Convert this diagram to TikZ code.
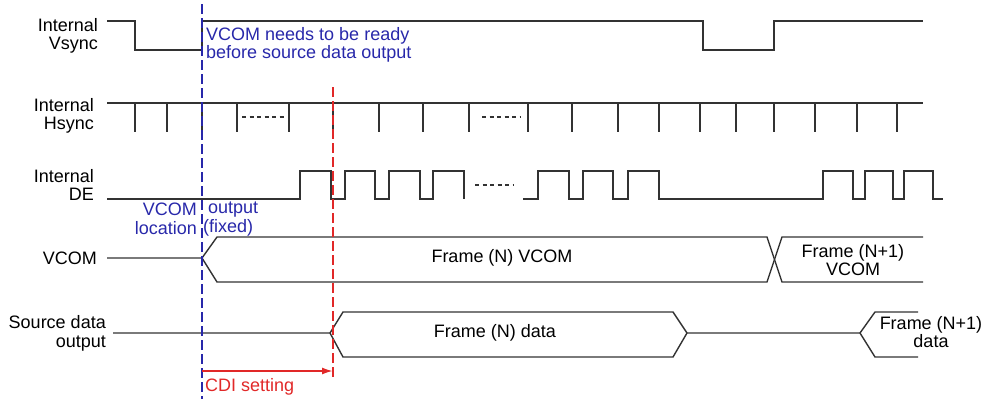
\documentclass[tikz,border=0pt]{standalone}
\usepackage{fontspec}
\setmainfont{Liberation Sans}
\usetikzlibrary{arrows.meta}
\definecolor{myblue}{RGB}{40,40,170}
\definecolor{myred}{RGB}{225,40,40}
\definecolor{sigcol}{RGB}{50,50,50}
\begin{document}
\begin{tikzpicture}[x=1pt,y=-1pt,
  sig/.style={line width=1.4pt, draw=sigcol, line join=miter},
  dots/.style={line width=1.1pt, draw=sigcol, dash pattern=on 4pt off 3.5pt},
  txt/.style={font=\fontsize{18}{18.5}\selectfont, inner sep=0pt},
  lbl/.style={txt, align=right, anchor=east},
  bluetxt/.style={txt, text=myblue},
  redtxt/.style={txt, text=myred},
  bluedash/.style={draw=myblue, line width=1.2pt, dash pattern=on 10pt off 4pt},
  reddash/.style={draw=myred, line width=1.2pt, dash pattern=on 10pt off 4pt}
]
\useasboundingbox (0,0) rectangle (986,399);

% labels
\node[lbl] (lvs) at (98,36) {Internal\\Vsync};
\node[lbl] (lhs) at (94,116) {Internal\\Hsync};
\node[lbl] (lde) at (94,185) {Internal\\DE};
\node[lbl] (lvc) at (97,258) {VCOM};
\node[lbl, font=\fontsize{18}{19}\selectfont] (lsd) at (106,333) {Source data\\output};

% Vsync
\draw[sig] (107,21) -- (135,21) -- (135,50) -- (202,50) -- (202,21) -- (703,21) -- (703,50) -- (774,50) -- (774,21) -- (923,21);

% Hsync
\draw[sig] (107,103) -- (923,103);
\foreach \x in {135,167,202,237,289,333,379,423,469,528,572,618,659,700,736,774,815,857,897}
  \draw[sig] (\x,103) -- (\x,132);
\draw[dots] (242,117) -- (284,117);
\draw[dots] (482,117) -- (521,117);

% DE
\draw[sig] (107,199) -- (300,199) -- (300,171) -- (331,171) -- (331,199) -- (345,199) -- (345,171) -- (375,171) -- (375,199) -- (389,199) -- (389,171) -- (420,171) -- (420,199) -- (433,199) -- (433,171) -- (464,171) -- (464,199);
\draw[dots] (475,185) -- (514,185);
\draw[sig] (523,199) -- (538,199) -- (538,171) -- (569,171) -- (569,199) -- (583,199) -- (583,171) -- (613,171) -- (613,199) -- (628,199) -- (628,171) -- (659,171) -- (659,199) -- (823,199) -- (823,171) -- (853,171) -- (853,199) -- (865,199) -- (865,171) -- (893,171) -- (893,199) -- (904,199) -- (904,171) -- (933,171) -- (933,199) -- (943,199);

% VCOM
\draw[sig] (107,258) -- (202,258) -- (217,237) -- (767,237) -- (782,282) -- (923,282);
\draw[sig] (202,258) -- (217,282) -- (767,282) -- (782,237) -- (923,237);
\node[txt] (fn) at (502,258) {Frame (N) VCOM};
\node[txt, align=center] (fn1) at (853,260) {Frame (N+1)\\VCOM};

% Source data
\draw[sig] (113,333) -- (330,333) -- (343,312) -- (673,312) -- (687,333) -- (860,333) -- (875,312) -- (918,312);
\draw[sig] (330,333) -- (343,357) -- (673,357) -- (687,333);
\draw[sig] (860,333) -- (875,357) -- (918,357);
\node[txt] (dn) at (495,333) {Frame (N) data};
\node[txt, align=center] (dn1) at (931,332) {Frame (N+1)\\data};

% marker lines
\coordinate (bt) at (202,4);
\coordinate (bb) at (202,399);
\coordinate (rt) at (333,87);
\coordinate (rb) at (333,377);
\draw[bluedash] (bt) -- (bb);
\draw[reddash] (rt) -- (rb);

% blue notes
\node[bluetxt, align=left, anchor=west] (note) at (206,45) {VCOM needs to be ready\\before source data output};
\node[bluetxt, anchor=east] (n1) at (197,209.5) {VCOM};
\node[bluetxt, anchor=west] (n2) at (208,209.5) {output};
\node[bluetxt, anchor=east] (n3) at (197,228) {location};
\node[bluetxt, anchor=west] (n4) at (203,228) {(fixed)};

% CDI arrow
\coordinate (a1) at (202,371);
\coordinate (a2) at (333,371);
\draw[draw=myred, line width=1.8pt, -{Latex[length=11pt,width=7pt]}] (a1) -- (a2);
\node[redtxt, anchor=west] (cdi) at (205,387) {CDI setting};
\end{tikzpicture}
\end{document}
